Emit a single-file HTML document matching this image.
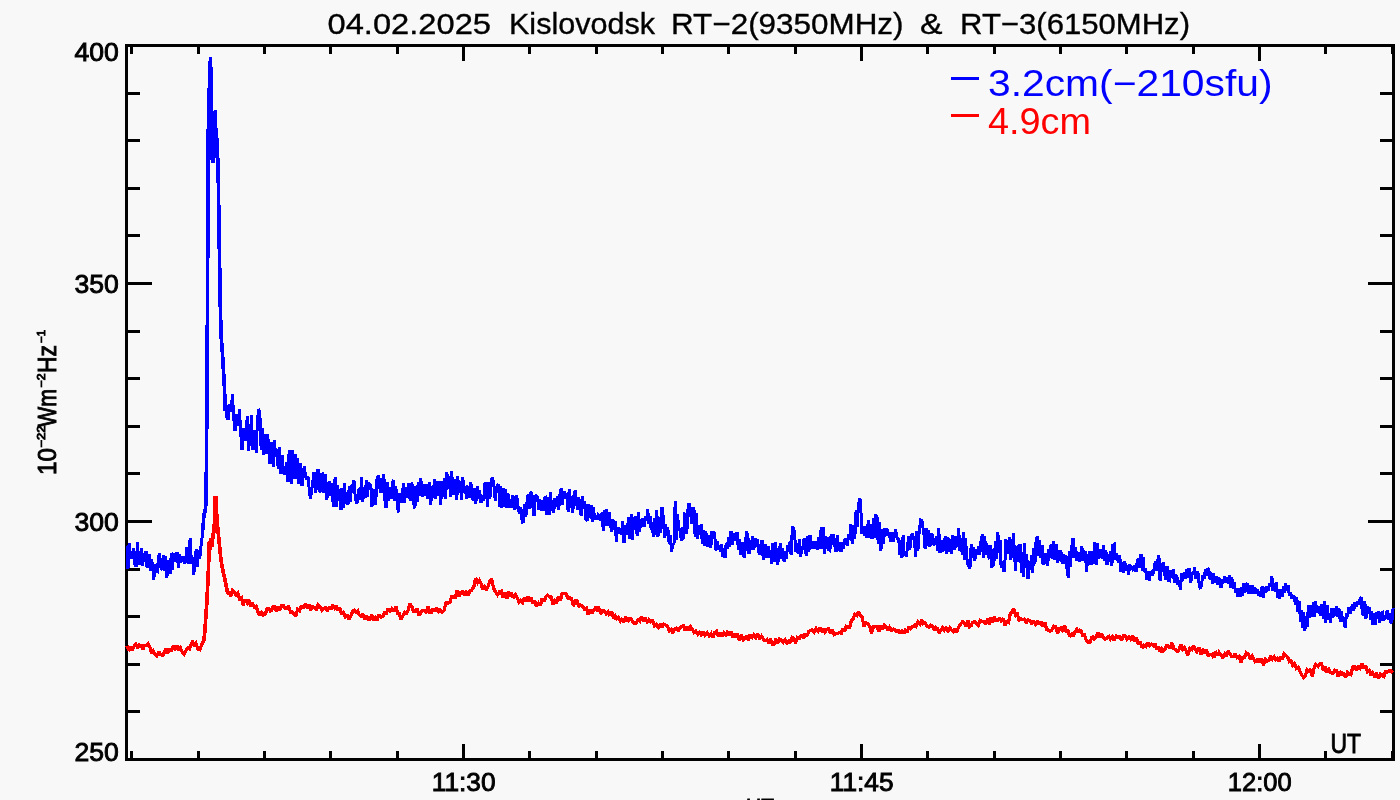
<!DOCTYPE html>
<html><head><meta charset="utf-8"><title>Kislovodsk RT-2 &amp; RT-3</title>
<style>
html,body{margin:0;padding:0;background:#f8f8f8;}
svg{display:block;will-change:opacity;opacity:0.999}
text{font-family:"Liberation Sans",sans-serif;}
</style></head><body>
<svg width="1400" height="800" viewBox="0 0 1400 800">
<rect width="1400" height="800" fill="#f8f8f8"/>
<g stroke="#000" stroke-width="3" stroke-linecap="butt" shape-rendering="crispEdges"><line x1="131.8" y1="759.5" x2="131.8" y2="751.0"/><line x1="131.8" y1="45.5" x2="131.8" y2="54.0"/><line x1="198.2" y1="759.5" x2="198.2" y2="751.0"/><line x1="198.2" y1="45.5" x2="198.2" y2="54.0"/><line x1="264.5" y1="759.5" x2="264.5" y2="751.0"/><line x1="264.5" y1="45.5" x2="264.5" y2="54.0"/><line x1="330.8" y1="759.5" x2="330.8" y2="751.0"/><line x1="330.8" y1="45.5" x2="330.8" y2="54.0"/><line x1="397.2" y1="759.5" x2="397.2" y2="751.0"/><line x1="397.2" y1="45.5" x2="397.2" y2="54.0"/><line x1="463.5" y1="759.5" x2="463.5" y2="744.0"/><line x1="463.5" y1="45.5" x2="463.5" y2="61.0"/><line x1="529.8" y1="759.5" x2="529.8" y2="751.0"/><line x1="529.8" y1="45.5" x2="529.8" y2="54.0"/><line x1="596.2" y1="759.5" x2="596.2" y2="751.0"/><line x1="596.2" y1="45.5" x2="596.2" y2="54.0"/><line x1="662.5" y1="759.5" x2="662.5" y2="751.0"/><line x1="662.5" y1="45.5" x2="662.5" y2="54.0"/><line x1="728.8" y1="759.5" x2="728.8" y2="751.0"/><line x1="728.8" y1="45.5" x2="728.8" y2="54.0"/><line x1="795.2" y1="759.5" x2="795.2" y2="751.0"/><line x1="795.2" y1="45.5" x2="795.2" y2="54.0"/><line x1="861.5" y1="759.5" x2="861.5" y2="744.0"/><line x1="861.5" y1="45.5" x2="861.5" y2="61.0"/><line x1="927.8" y1="759.5" x2="927.8" y2="751.0"/><line x1="927.8" y1="45.5" x2="927.8" y2="54.0"/><line x1="994.2" y1="759.5" x2="994.2" y2="751.0"/><line x1="994.2" y1="45.5" x2="994.2" y2="54.0"/><line x1="1060.5" y1="759.5" x2="1060.5" y2="751.0"/><line x1="1060.5" y1="45.5" x2="1060.5" y2="54.0"/><line x1="1126.8" y1="759.5" x2="1126.8" y2="751.0"/><line x1="1126.8" y1="45.5" x2="1126.8" y2="54.0"/><line x1="1193.2" y1="759.5" x2="1193.2" y2="751.0"/><line x1="1193.2" y1="45.5" x2="1193.2" y2="54.0"/><line x1="1259.5" y1="759.5" x2="1259.5" y2="744.0"/><line x1="1259.5" y1="45.5" x2="1259.5" y2="61.0"/><line x1="1325.8" y1="759.5" x2="1325.8" y2="751.0"/><line x1="1325.8" y1="45.5" x2="1325.8" y2="54.0"/><line x1="1392.2" y1="759.5" x2="1392.2" y2="751.0"/><line x1="1392.2" y1="45.5" x2="1392.2" y2="54.0"/><line x1="126.5" y1="711.9" x2="140.0" y2="711.9"/><line x1="1393.5" y1="711.9" x2="1380.0" y2="711.9"/><line x1="126.5" y1="664.3" x2="140.0" y2="664.3"/><line x1="1393.5" y1="664.3" x2="1380.0" y2="664.3"/><line x1="126.5" y1="616.7" x2="140.0" y2="616.7"/><line x1="1393.5" y1="616.7" x2="1380.0" y2="616.7"/><line x1="126.5" y1="569.1" x2="140.0" y2="569.1"/><line x1="1393.5" y1="569.1" x2="1380.0" y2="569.1"/><line x1="126.5" y1="521.5" x2="152.0" y2="521.5"/><line x1="1393.5" y1="521.5" x2="1368.0" y2="521.5"/><line x1="126.5" y1="473.9" x2="140.0" y2="473.9"/><line x1="1393.5" y1="473.9" x2="1380.0" y2="473.9"/><line x1="126.5" y1="426.3" x2="140.0" y2="426.3"/><line x1="1393.5" y1="426.3" x2="1380.0" y2="426.3"/><line x1="126.5" y1="378.7" x2="140.0" y2="378.7"/><line x1="1393.5" y1="378.7" x2="1380.0" y2="378.7"/><line x1="126.5" y1="331.1" x2="140.0" y2="331.1"/><line x1="1393.5" y1="331.1" x2="1380.0" y2="331.1"/><line x1="126.5" y1="283.5" x2="152.0" y2="283.5"/><line x1="1393.5" y1="283.5" x2="1368.0" y2="283.5"/><line x1="126.5" y1="235.9" x2="140.0" y2="235.9"/><line x1="1393.5" y1="235.9" x2="1380.0" y2="235.9"/><line x1="126.5" y1="188.3" x2="140.0" y2="188.3"/><line x1="1393.5" y1="188.3" x2="1380.0" y2="188.3"/><line x1="126.5" y1="140.7" x2="140.0" y2="140.7"/><line x1="1393.5" y1="140.7" x2="1380.0" y2="140.7"/><line x1="126.5" y1="93.1" x2="140.0" y2="93.1"/><line x1="1393.5" y1="93.1" x2="1380.0" y2="93.1"/></g>
<rect x="126.5" y="45.5" width="1267.0" height="714.0" fill="none" stroke="#000" stroke-width="3" shape-rendering="crispEdges"/>
<g fill="none" stroke-linejoin="miter" stroke-miterlimit="2" stroke-linecap="butt" shape-rendering="crispEdges">
<polyline stroke="#0000ff" stroke-width="3" points="127.0,545.9 128.0,568.7 129.1,542.8 130.3,558.5 131.4,551.5 132.7,558.3 133.8,548.6 135.1,565.6 136.4,565.4 137.5,542.3 138.7,563.2 140.1,564.5 141.3,548.2 142.4,565.9 143.7,556.9 144.9,553.5 146.0,551.2 147.1,567.8 148.3,555.5 149.3,555.4 150.5,571.2 151.6,559.3 152.6,565.5 153.8,579.5 155.0,564.4 156.0,571.2 157.3,571.7 158.4,557.6 159.5,553.5 160.8,567.7 162.0,570.1 163.3,554.7 164.4,571.0 165.5,556.6 166.7,577.5 167.8,573.2 168.9,560.2 170.0,574.1 171.3,553.2 172.4,570.0 173.6,554.5 174.7,555.1 175.8,561.5 177.1,551.8 178.4,568.1 179.6,554.0 180.8,561.5 182.1,560.9 183.4,556.8 184.5,563.6 185.7,559.2 186.9,547.4 188.1,564.3 189.3,545.7 190.3,538.2 191.4,564.1 192.5,557.1 193.8,575.1 195.1,557.6 196.3,548.7 197.4,567.3 198.7,550.5 199.7,558.9 201.1,544.8 203.0,530.0 203.8,515.0 205.0,512.0 205.8,505.0 206.4,470.0 207.0,380.0 207.4,320.0 208.2,136.0 209.3,90.0 210.5,57.5 211.2,100.0 211.5,160.0 212.3,120.0 213.0,163.0 214.0,130.0 215.4,110.0 216.0,150.0 217.0,138.0 217.5,165.0 218.0,158.0 218.6,200.0 220.0,290.0 221.0,335.0 222.4,352.0 224.6,390.0 225.0,411.0 226.0,405.0 227.0,418.0 228.0,420.0 229.5,404.0 231.0,412.0 232.5,394.0 233.5,415.0 235.0,431.0 236.5,414.0 238.0,426.0 239.5,409.0 240.5,430.0 242.0,450.0 243.5,428.0 245.0,441.0 247.4,416.0 248.3,451.0 249.0,424.5 250.3,445.6 251.3,415.5 252.6,450.2 253.7,443.0 255.0,430.6 256.2,452.8 257.3,422.9 258.5,409.0 259.8,411.7 261.2,450.4 262.5,428.2 263.8,455.2 265.1,433.8 266.3,454.3 267.3,434.6 268.6,442.7 269.9,464.2 271.0,441.8 272.2,457.3 273.4,467.1 274.5,440.3 275.6,456.8 276.9,449.3 278.2,468.8 279.4,446.6 280.7,473.5 282.1,454.8 283.3,472.3 284.4,474.7 285.5,468.4 286.9,462.0 288.0,482.2 289.2,449.7 290.4,472.2 291.4,484.0 292.8,449.9 293.9,479.2 295.1,453.6 296.2,479.2 297.3,458.4 298.3,482.3 299.5,483.4 300.7,463.0 302.0,486.2 303.1,477.7 304.2,465.7 305.4,475.5 306.6,479.8 307.9,476.4 309.2,488.9 310.4,499.0 311.6,490.3 312.9,480.5 314.0,472.3 315.3,492.8 316.7,487.8 318.0,469.0 319.2,489.5 320.3,492.3 321.6,474.2 322.7,473.8 324.0,492.4 325.4,474.5 326.5,499.5 327.7,495.9 329.1,480.9 330.2,495.9 331.4,483.6 332.7,499.4 333.8,506.7 335.1,477.3 336.4,506.5 337.6,485.2 338.7,500.8 339.9,489.2 341.0,510.0 342.0,488.1 343.2,507.5 344.4,483.0 345.5,504.0 346.8,492.2 348.0,504.8 349.3,485.9 350.4,502.4 351.5,484.8 352.7,485.9 353.9,480.0 355.1,495.2 356.4,503.2 357.8,501.6 359.1,487.9 360.4,499.4 361.5,477.5 362.8,501.7 363.9,487.9 365.1,498.0 366.4,480.0 367.5,496.6 368.5,482.8 369.7,486.1 370.8,483.9 371.9,507.2 373.2,489.5 374.6,496.9 375.6,504.9 376.9,480.1 378.2,475.0 379.3,484.1 380.5,492.9 381.6,478.6 382.7,492.7 383.8,473.9 384.9,499.8 386.1,508.2 387.5,482.0 388.7,500.7 390.0,487.6 391.1,498.4 392.3,484.2 393.5,479.8 394.7,501.4 395.8,486.3 397.1,501.6 398.3,512.4 399.4,493.2 400.7,496.4 402.1,503.2 403.3,483.4 404.4,502.5 405.4,487.6 406.5,497.5 407.8,493.6 408.9,483.2 410.2,501.0 411.3,482.8 412.6,485.8 413.6,502.8 414.9,508.3 415.9,485.6 417.1,501.6 418.5,482.5 419.5,496.1 420.7,478.1 421.7,486.4 422.8,496.9 424.1,483.9 425.2,495.7 426.3,483.8 427.4,498.7 428.5,491.3 429.6,481.8 430.7,505.3 432.0,486.1 433.1,498.1 434.4,479.0 435.7,499.3 436.9,480.7 438.2,496.3 439.5,481.4 440.7,505.1 441.9,480.8 443.1,496.8 444.4,478.4 445.6,498.8 446.8,471.8 448.2,489.1 449.5,476.5 450.6,496.6 451.7,471.5 453.0,494.7 454.2,479.1 455.4,481.9 456.8,500.2 457.8,476.5 458.9,492.2 460.2,481.0 461.5,500.1 462.8,477.6 464.0,493.3 465.2,485.8 466.4,498.6 467.5,487.1 468.6,487.6 469.7,498.2 470.9,482.2 472.1,498.8 473.3,499.2 474.4,488.4 475.8,503.8 477.1,486.6 478.4,498.9 479.6,489.7 481.0,503.0 482.2,495.8 483.6,500.5 484.9,482.7 486.2,484.7 487.5,506.9 488.8,482.5 489.9,498.5 491.2,480.0 492.6,477.6 493.9,485.1 495.2,500.4 496.3,487.3 497.5,485.2 498.5,484.5 499.8,507.0 500.9,486.2 502.0,507.6 503.1,488.1 504.2,507.0 505.5,488.9 506.7,508.2 507.9,492.9 509.1,508.0 510.2,499.4 511.4,507.4 512.6,495.2 513.9,499.3 515.0,509.7 516.3,495.6 517.5,500.4 518.5,510.8 519.8,513.4 520.9,507.5 522.2,522.0 523.5,521.4 524.8,504.1 525.9,516.5 527.2,499.6 528.3,494.2 529.6,509.1 530.8,493.2 531.8,492.0 533.0,507.5 534.0,515.9 535.1,495.0 536.5,496.9 537.5,495.8 538.6,509.8 539.8,498.7 541.1,510.6 542.3,500.3 543.4,510.8 544.4,498.1 545.6,497.4 546.7,515.4 547.9,497.2 549.1,514.8 550.3,491.6 551.4,510.8 552.5,500.5 553.7,512.8 554.9,497.8 556.2,506.4 557.5,495.8 558.7,509.9 560.1,493.5 561.1,488.3 562.3,505.0 563.3,493.6 564.6,491.7 565.9,498.4 567.1,493.0 568.1,511.8 569.2,488.9 570.3,507.4 571.6,496.4 572.8,512.6 574.1,493.9 575.3,490.2 576.3,499.8 577.5,509.4 578.6,497.0 580.0,505.9 581.2,516.2 582.5,496.2 583.7,509.2 584.8,501.1 586.0,519.5 587.2,520.4 588.6,503.9 589.8,518.3 591.0,505.2 592.2,522.2 593.4,506.8 594.6,519.1 595.7,517.7 597.1,519.4 598.2,514.8 599.4,515.8 600.7,520.5 602.1,512.3 603.3,531.0 604.4,509.8 605.7,525.5 606.8,509.4 608.1,525.8 609.3,512.4 610.6,526.7 611.9,531.5 613.0,519.6 614.1,529.2 615.1,521.0 616.4,541.6 617.6,527.4 618.9,533.6 620.2,527.8 621.4,534.7 622.6,521.1 624.0,542.7 625.2,525.0 626.5,534.5 627.7,525.0 628.9,516.8 630.0,539.0 631.2,514.1 632.4,539.5 633.7,517.2 634.7,530.2 635.9,515.9 637.2,536.4 638.3,512.5 639.3,531.7 640.4,519.2 641.8,527.3 642.9,518.4 644.2,526.8 645.5,516.1 646.5,521.2 647.7,509.2 649.0,524.3 650.0,516.0 651.2,530.3 652.3,521.7 653.3,537.2 654.4,518.2 655.5,535.2 656.7,509.9 658.0,536.5 659.4,517.6 660.7,532.9 662.0,506.8 663.4,517.8 664.5,537.9 665.6,523.9 666.6,536.3 667.8,527.6 669.1,543.5 670.2,535.4 671.5,551.4 672.8,545.0 674.0,543.7 675.2,500.6 676.4,539.8 677.6,514.4 678.7,530.4 679.9,528.8 681.3,540.5 682.3,527.1 683.6,539.4 684.6,514.0 685.8,514.6 686.8,533.6 688.2,505.7 689.2,503.0 690.5,509.4 691.5,524.0 692.6,511.9 693.9,507.2 695.1,536.5 696.3,513.1 697.6,539.1 698.7,525.3 699.8,534.5 701.2,524.4 702.3,544.4 703.4,530.3 704.6,545.8 705.9,531.4 707.1,546.9 708.5,536.5 709.6,535.7 710.8,548.1 712.0,531.1 713.3,533.4 714.6,532.0 715.7,550.4 717.0,540.8 718.0,549.6 719.1,545.2 720.4,551.7 721.4,544.5 722.5,556.5 723.9,547.8 725.0,558.1 726.2,543.1 727.3,548.5 728.6,537.0 729.6,546.8 731.0,531.1 732.2,544.7 733.3,532.9 734.7,540.6 735.9,535.2 737.0,531.9 738.4,549.9 739.5,539.6 740.9,554.8 742.2,542.4 743.5,556.2 744.6,557.4 745.7,540.5 746.7,531.2 748.0,537.7 749.0,554.2 750.1,539.7 751.2,549.7 752.4,535.8 753.8,550.3 755.1,538.0 756.2,546.7 757.5,539.0 758.7,551.9 759.8,554.5 760.9,544.3 762.0,539.9 763.2,559.4 764.6,556.1 765.7,543.8 767.0,557.7 768.3,546.3 769.4,558.3 770.5,549.9 771.9,564.1 772.9,543.3 774.2,561.8 775.4,541.7 776.7,555.9 777.7,564.5 779.0,555.4 780.3,543.3 781.5,559.3 782.7,548.3 784.1,561.8 785.1,550.8 786.5,559.0 787.6,544.7 788.8,551.6 790.1,540.9 791.1,555.2 792.4,526.5 793.6,528.6 794.6,533.1 795.7,552.0 797.1,543.1 798.1,553.5 799.4,539.1 800.6,557.0 801.9,545.8 803.1,550.1 804.1,537.9 805.4,551.1 806.5,555.4 807.9,536.4 808.9,551.8 810.0,535.3 811.3,549.0 812.4,541.6 813.7,546.3 814.7,548.7 816.0,541.2 817.3,549.8 818.7,537.1 820.0,548.7 821.2,527.0 822.2,548.6 823.2,526.9 824.5,554.0 825.6,536.1 826.6,548.9 827.7,537.5 828.9,549.9 829.9,550.5 831.2,534.2 832.4,544.5 833.5,534.6 834.9,546.6 836.0,551.7 837.2,535.4 838.3,551.2 839.6,541.8 841.0,551.5 842.0,542.2 843.3,548.7 844.6,540.3 845.9,538.7 847.3,546.1 848.4,533.9 849.5,539.7 850.9,524.2 852.2,543.5 853.5,525.1 854.8,539.1 856.1,510.4 857.2,527.4 858.5,504.1 859.9,498.0 860.9,510.3 862.0,533.8 863.3,526.0 864.5,535.4 865.7,526.3 867.0,538.0 868.3,520.3 869.4,537.8 870.6,524.3 872.0,539.3 873.4,517.8 874.7,538.2 875.8,514.4 877.1,517.2 878.2,544.0 879.6,522.2 880.9,551.4 882.1,529.6 883.5,544.1 884.7,528.0 885.8,535.5 886.9,528.2 888.2,535.6 889.3,532.1 890.6,542.3 891.9,532.2 893.0,541.8 894.2,537.5 895.5,529.2 896.5,534.7 897.6,539.7 898.7,537.9 899.8,554.7 900.8,540.6 902.0,557.5 903.1,535.5 904.1,552.6 905.2,552.8 906.3,556.6 907.6,545.9 908.7,536.5 909.8,550.2 911.1,539.5 912.2,532.8 913.3,538.3 914.4,536.7 915.5,556.6 916.7,530.8 917.9,550.6 919.3,530.4 920.6,520.0 921.9,520.1 922.9,527.3 924.1,535.5 925.1,548.9 926.2,528.4 927.4,546.0 928.8,529.8 929.9,547.1 931.2,533.4 932.6,535.2 933.7,545.3 935.0,541.8 936.3,536.6 937.6,550.6 938.7,528.4 940.0,553.1 941.4,540.5 942.7,551.8 944.0,549.0 945.2,536.2 946.6,553.6 947.9,537.0 949.2,551.8 950.4,539.0 951.7,553.7 952.8,535.4 954.1,549.8 955.1,536.1 956.2,544.3 957.4,547.0 958.7,528.2 959.8,550.7 960.9,539.5 962.3,555.2 963.3,531.8 964.4,560.1 965.5,538.4 966.7,556.4 967.8,564.5 968.9,566.0 969.9,568.8 971.2,544.5 972.6,558.3 973.7,546.9 974.8,560.4 976.0,549.5 977.3,554.5 978.5,545.9 979.7,554.6 981.0,541.2 982.4,534.0 983.5,557.5 984.7,536.0 985.8,554.4 986.8,543.3 988.1,555.5 989.4,559.1 990.8,544.9 991.8,566.3 993.0,566.0 994.2,559.6 995.5,541.6 996.8,559.0 997.8,531.7 999.0,552.8 1000.1,540.3 1001.1,567.7 1002.3,561.5 1003.5,570.5 1004.6,570.6 1005.8,540.8 1007.1,541.0 1008.3,554.3 1009.5,537.1 1010.7,559.5 1012.0,552.2 1013.4,533.5 1014.5,554.9 1015.6,570.5 1016.7,545.9 1017.9,561.9 1019.0,545.5 1020.3,545.7 1021.4,572.6 1022.4,551.9 1023.5,577.2 1024.5,543.3 1025.6,567.7 1026.7,553.8 1028.0,579.0 1029.1,561.0 1030.2,569.8 1031.5,555.3 1032.7,572.6 1033.8,548.5 1034.9,564.3 1036.0,542.1 1037.3,536.4 1038.6,555.6 1039.7,540.3 1040.9,557.4 1042.0,545.1 1043.1,565.3 1044.3,552.8 1045.4,563.6 1046.6,553.4 1047.6,565.9 1048.9,548.9 1050.0,557.4 1051.1,543.9 1052.4,558.5 1053.6,541.1 1054.9,559.4 1056.3,543.9 1057.4,562.5 1058.4,559.7 1059.7,551.6 1060.9,551.3 1062.2,564.3 1063.5,553.9 1064.5,563.7 1065.9,554.9 1067.1,569.7 1068.2,577.5 1069.3,551.3 1070.4,566.9 1071.7,547.2 1073.1,538.0 1074.4,557.6 1075.6,547.3 1077.0,561.1 1078.2,551.8 1079.4,561.9 1080.6,557.6 1081.9,546.0 1083.0,561.1 1084.2,552.5 1085.3,551.3 1086.6,571.8 1087.8,553.7 1088.9,565.3 1090.0,550.9 1091.2,565.3 1092.3,551.2 1093.6,564.1 1095.0,542.4 1096.3,564.8 1097.4,542.7 1098.8,558.8 1099.8,554.2 1101.0,548.9 1102.2,559.1 1103.4,545.0 1104.7,560.8 1105.9,550.0 1107.0,565.3 1108.2,554.3 1109.6,561.3 1110.7,550.7 1111.9,566.0 1112.9,545.1 1114.2,544.3 1115.4,560.3 1116.4,553.3 1117.5,559.0 1118.6,562.5 1119.7,554.8 1121.0,571.6 1122.3,562.0 1123.4,572.7 1124.8,561.7 1126.1,571.1 1127.2,565.3 1128.6,574.5 1129.9,564.6 1131.2,569.9 1132.4,566.8 1133.7,571.1 1135.0,565.6 1136.1,571.9 1137.2,562.0 1138.3,558.8 1139.6,567.8 1141.0,554.0 1142.2,570.7 1143.3,557.4 1144.3,572.1 1145.5,568.3 1146.7,580.2 1148.0,571.3 1149.3,580.7 1150.3,573.9 1151.6,572.4 1152.8,575.4 1154.0,568.9 1155.3,561.4 1156.5,571.3 1157.6,560.3 1158.9,555.6 1160.1,581.3 1161.3,568.8 1162.6,564.0 1163.7,562.7 1165.1,577.3 1166.1,579.7 1167.3,566.4 1168.3,580.6 1169.6,580.9 1170.9,570.0 1171.9,577.1 1173.2,569.6 1174.3,583.0 1175.5,576.8 1176.8,574.9 1178.0,584.6 1179.2,580.1 1180.4,590.0 1181.8,572.8 1182.8,580.7 1184.1,572.6 1185.2,578.8 1186.4,569.0 1187.5,578.3 1188.5,569.7 1189.6,569.8 1190.8,582.6 1192.1,572.3 1193.4,574.7 1194.6,567.6 1195.8,578.6 1196.9,571.4 1198.0,572.9 1199.4,586.9 1200.5,589.0 1201.7,583.0 1202.8,574.8 1204.0,579.1 1205.3,569.5 1206.5,575.4 1207.8,568.0 1208.8,570.0 1210.1,579.5 1211.3,572.7 1212.6,583.4 1213.7,573.6 1215.0,582.5 1216.4,576.7 1217.4,584.6 1218.7,577.1 1219.9,580.8 1221.1,588.2 1222.4,579.0 1223.7,583.2 1224.8,576.4 1226.1,582.2 1227.2,577.7 1228.3,583.3 1229.3,575.3 1230.5,588.1 1231.9,577.6 1233.2,589.0 1234.3,581.9 1235.5,593.0 1236.8,587.9 1238.0,596.8 1239.2,588.5 1240.4,596.5 1241.6,587.3 1242.8,596.1 1243.8,583.3 1244.9,592.4 1246.1,584.7 1247.1,583.1 1248.4,593.9 1249.8,585.2 1251.1,594.2 1252.2,585.3 1253.5,593.7 1254.8,586.8 1256.0,593.4 1257.2,589.1 1258.5,595.9 1259.7,591.5 1261.0,596.4 1262.1,586.5 1263.3,598.3 1264.6,586.9 1265.8,592.9 1267.0,586.5 1268.3,591.0 1269.4,583.5 1270.7,587.0 1271.9,576.6 1273.0,590.7 1274.1,582.9 1275.3,591.8 1276.6,582.6 1277.6,597.8 1278.8,591.4 1279.8,598.8 1280.8,588.8 1282.0,596.5 1283.3,586.5 1284.5,592.5 1285.8,583.5 1286.8,591.0 1288.1,584.9 1289.4,595.7 1290.6,592.9 1291.9,598.4 1293.1,596.0 1294.1,596.4 1295.5,604.7 1296.8,597.6 1298.0,611.5 1299.2,601.2 1300.5,621.9 1301.6,610.1 1302.6,627.9 1303.8,612.4 1304.8,631.0 1306.1,616.4 1307.2,626.7 1308.4,605.5 1309.5,617.8 1310.7,605.1 1312.0,616.8 1313.4,602.2 1314.5,616.9 1315.6,601.6 1316.9,612.3 1318.2,605.9 1319.6,612.3 1320.7,615.3 1322.0,603.9 1323.3,619.2 1324.5,601.0 1325.8,623.3 1327.0,604.8 1328.1,620.2 1329.2,612.9 1330.5,623.2 1331.7,607.8 1332.9,617.8 1334.2,608.4 1335.4,615.3 1336.8,606.4 1337.9,616.4 1339.0,608.5 1340.3,622.1 1341.4,611.3 1342.7,621.9 1343.9,617.5 1345.2,628.0 1346.5,613.5 1347.7,616.8 1348.9,607.7 1350.2,613.4 1351.2,609.0 1352.5,604.0 1353.8,610.4 1355.1,601.9 1356.5,606.4 1357.8,601.8 1358.8,604.8 1359.9,599.4 1361.2,597.1 1362.4,614.1 1363.6,614.8 1364.8,601.1 1366.0,618.4 1367.1,606.5 1368.1,609.8 1369.4,607.6 1370.6,619.5 1371.7,611.0 1373.0,625.3 1374.1,613.1 1375.1,624.8 1376.2,612.1 1377.4,618.9 1378.7,611.5 1379.8,622.9 1381.1,613.0 1382.3,612.4 1383.5,620.7 1384.9,618.6 1386.1,614.8 1387.3,610.7 1388.7,619.9 1389.7,613.5 1390.8,623.3 1391.9,621.2 1393.1,607.9"/>
<polyline stroke="#ff0000" stroke-width="3.3" points="127.0,645.9 128.8,650.9 130.6,646.6 132.3,650.3 134.1,646.3 135.7,644.1 137.7,648.1 139.5,645.0 141.2,645.6 142.9,649.4 144.5,645.4 146.4,645.4 148.0,643.7 149.8,647.0 151.7,653.7 153.3,651.2 154.9,654.1 156.9,655.8 158.8,651.6 160.7,654.4 162.6,655.6 164.3,652.7 166.1,648.7 167.8,653.3 169.6,648.3 171.3,651.3 173.2,645.7 175.1,648.8 177.0,645.4 178.8,650.1 180.4,647.9 182.3,652.1 184.0,654.3 185.7,651.0 187.7,647.9 189.4,648.9 191.0,644.9 192.5,641.0 194.2,644.9 195.9,643.2 197.9,649.4 199.9,649.9 201.5,645.2 204.0,640.0 205.0,630.0 205.6,620.0 207.0,600.0 208.4,570.0 209.4,541.0 210.3,550.0 211.2,538.0 212.0,547.0 213.0,535.0 214.0,531.0 214.8,515.0 215.3,498.0 215.9,498.0 216.5,512.0 217.0,520.0 219.0,540.0 221.0,560.0 223.0,571.0 225.0,580.0 226.5,588.0 228.0,594.0 229.0,592.1 230.7,596.1 232.4,590.4 234.1,591.8 236.1,595.1 237.9,593.3 239.4,598.8 241.4,597.6 243.1,605.1 245.1,599.6 247.2,603.1 249.0,600.0 250.6,606.2 252.3,602.8 254.4,606.9 256.1,606.3 257.9,611.9 259.9,615.4 261.5,612.5 263.5,615.2 265.5,613.5 267.0,608.6 269.0,608.4 270.8,611.8 272.9,607.1 274.4,606.6 276.4,611.5 278.0,606.7 279.6,610.5 281.4,606.0 283.4,605.6 284.9,608.2 286.5,608.4 288.5,605.9 290.5,611.9 292.3,611.9 294.0,614.1 295.7,616.3 297.6,609.3 299.6,610.8 301.5,605.7 303.2,608.4 305.1,604.2 307.1,607.3 309.0,604.8 310.7,610.1 312.7,606.7 314.7,607.5 316.4,610.1 318.1,604.8 320.1,606.5 321.8,610.2 323.8,608.3 325.8,607.8 327.4,611.4 329.3,606.5 331.0,609.5 332.6,605.1 334.7,608.2 336.4,605.7 338.1,610.7 339.8,608.0 341.6,614.4 343.3,612.4 345.3,617.0 347.0,614.8 348.7,619.3 350.5,616.7 352.6,611.4 354.2,610.2 356.1,612.3 357.8,610.8 359.3,615.0 360.9,616.1 362.7,613.7 364.6,618.9 366.6,615.7 368.3,619.6 370.1,619.5 371.8,615.0 373.5,620.2 375.5,617.4 377.2,620.7 378.8,614.5 380.9,617.1 382.7,616.7 384.3,612.6 386.3,613.3 388.0,608.6 390.0,611.3 391.9,608.5 393.9,611.3 395.9,606.3 397.6,613.6 399.3,613.8 401.1,619.4 402.8,615.7 404.8,612.4 406.6,613.4 408.2,609.9 410.0,603.8 411.9,606.7 413.5,611.2 415.2,611.7 417.1,608.9 419.1,615.1 420.9,612.7 422.6,610.3 424.3,610.9 426.2,612.0 428.0,606.1 429.6,612.6 431.5,612.5 433.0,608.3 434.7,611.5 436.7,607.9 438.5,611.7 440.2,609.8 442.1,612.1 443.9,610.8 446.0,602.5 448.0,603.0 449.9,602.2 451.5,596.9 453.3,597.1 455.3,597.5 457.1,590.9 459.1,596.2 460.7,592.2 462.8,591.6 464.4,595.5 466.2,592.3 468.1,595.5 470.0,590.3 471.7,590.2 473.7,587.1 475.6,578.1 477.7,582.5 479.4,580.2 481.1,583.8 482.8,589.5 484.4,586.8 486.4,590.0 488.3,585.6 489.8,580.9 491.6,578.9 493.6,588.2 495.7,592.2 497.5,594.8 499.6,591.6 501.3,591.1 503.1,597.8 505.1,592.4 507.0,598.2 508.8,591.7 510.3,596.6 511.9,594.3 513.8,596.7 515.3,594.5 517.3,597.9 518.9,601.8 520.6,600.1 522.7,602.5 524.3,597.9 526.0,601.1 528.0,596.5 529.6,601.6 531.2,597.9 532.9,603.5 534.7,601.1 536.4,606.6 538.5,603.1 540.2,605.7 542.2,598.5 544.0,601.2 546.1,596.4 547.8,595.2 549.4,596.9 551.1,596.8 553.1,604.4 554.9,601.0 556.4,603.0 558.4,597.0 560.4,600.6 562.1,593.8 564.1,593.8 566.0,593.6 567.9,598.3 569.9,597.9 571.5,598.8 573.5,606.0 575.4,600.9 577.0,601.0 578.8,606.1 580.4,605.0 582.4,606.0 584.4,608.9 586.4,608.2 588.1,614.3 590.2,609.6 592.0,613.3 593.9,610.4 595.9,606.6 597.4,609.8 599.0,608.3 600.7,613.9 602.5,610.5 604.2,610.9 606.2,614.1 607.9,611.8 609.9,615.8 611.6,611.5 613.6,618.8 615.2,616.3 616.7,619.0 618.4,617.5 620.2,621.1 622.1,618.3 623.7,622.3 625.7,617.1 627.6,621.8 629.4,618.3 631.0,618.3 632.6,621.9 634.3,623.5 636.0,623.2 637.9,620.0 639.8,621.3 641.5,616.8 643.5,620.8 645.1,617.8 647.1,621.7 648.7,619.7 650.6,622.1 652.5,620.8 654.6,626.0 656.4,624.1 658.3,627.4 660.4,623.9 662.0,627.3 663.9,624.1 666.0,625.4 667.7,626.8 669.4,630.8 671.2,629.3 672.8,632.9 674.6,629.3 676.5,628.1 678.2,631.1 679.7,628.2 681.4,626.3 683.3,625.7 685.1,630.4 686.9,626.6 688.9,630.5 690.6,626.7 692.3,629.0 693.9,632.4 695.7,631.2 697.7,634.3 699.4,632.3 701.2,634.8 703.2,631.6 705.0,635.4 707.1,632.7 709.1,635.7 711.1,633.4 713.0,637.5 714.6,632.7 716.6,631.2 718.2,636.0 720.2,632.4 722.2,636.6 724.0,632.9 725.7,635.0 727.7,631.1 729.3,635.8 730.9,631.9 732.6,637.2 734.2,633.8 735.9,637.7 737.4,633.9 739.5,640.8 741.4,634.7 743.3,639.9 745.2,638.6 746.7,635.3 748.3,640.1 750.1,634.8 752.1,637.5 753.7,634.8 755.7,637.6 757.7,633.8 759.5,639.1 761.5,636.3 763.3,639.2 765.1,640.8 767.0,639.7 768.8,643.0 770.5,639.0 772.5,644.3 774.1,644.0 775.8,639.0 777.7,643.2 779.3,639.1 781.2,639.7 783.2,642.4 785.2,640.0 786.9,642.9 789.0,640.8 790.5,642.9 792.1,637.2 793.9,638.2 795.5,643.0 797.5,637.4 799.5,638.3 801.5,634.5 803.6,638.3 805.1,633.4 806.9,635.9 808.8,631.4 810.6,630.6 812.2,629.8 814.2,632.1 816.1,628.6 818.0,631.0 819.8,627.3 821.5,631.9 823.1,628.5 825.0,632.1 826.9,629.3 828.6,628.8 830.4,633.0 831.9,629.6 834.0,634.5 835.7,633.5 837.5,633.4 839.4,632.4 841.2,633.4 843.0,628.4 844.6,631.0 846.2,626.5 847.9,627.2 849.8,627.2 851.3,620.3 853.0,619.1 855.0,614.2 856.7,615.5 858.5,611.5 860.5,616.0 862.1,617.2 864.1,626.5 865.7,622.9 867.7,623.9 869.8,626.4 871.6,633.1 873.4,626.9 875.4,626.3 877.1,626.4 879.1,631.7 880.9,625.6 882.7,629.0 884.5,625.1 886.1,626.4 888.0,630.7 889.7,627.5 891.5,630.2 893.4,629.0 894.9,629.5 896.7,632.5 898.4,629.4 900.1,633.2 902.0,630.3 903.7,633.7 905.4,630.1 907.0,632.2 908.6,627.7 910.5,628.8 912.3,627.0 914.2,625.2 915.9,626.5 917.8,621.8 919.9,624.3 921.5,620.1 923.3,623.7 925.2,622.8 927.2,626.5 928.9,627.0 930.7,625.0 932.5,626.3 934.2,629.9 935.7,627.3 937.5,628.8 939.4,632.9 940.9,630.1 942.5,627.7 944.3,630.3 946.2,627.1 947.7,631.9 949.8,628.0 951.3,629.9 953.3,631.6 955.1,628.7 956.7,632.0 958.6,626.9 960.6,623.9 962.5,621.8 964.2,622.7 966.2,626.8 968.1,620.6 969.6,626.9 971.2,625.5 972.8,622.2 974.6,621.4 976.4,623.6 978.3,625.3 980.2,620.6 982.2,621.6 984.1,621.6 985.8,623.9 987.6,619.0 989.2,624.3 991.0,617.8 992.6,622.3 994.3,616.9 996.1,620.4 997.9,620.4 999.6,617.5 1001.4,620.8 1003.3,618.3 1005.2,625.9 1006.7,621.8 1008.5,622.5 1010.2,613.9 1012.0,611.7 1013.6,608.4 1015.7,615.6 1017.3,614.1 1018.9,619.9 1020.5,618.6 1022.4,619.3 1024.4,619.1 1026.3,622.9 1028.1,619.9 1030.0,620.5 1031.8,624.2 1033.6,620.8 1035.5,624.0 1037.3,620.8 1039.3,624.7 1040.9,621.9 1043.0,626.7 1044.9,622.4 1046.7,629.4 1048.5,630.2 1050.1,631.2 1051.8,630.0 1053.8,626.2 1055.7,626.9 1057.7,633.1 1059.6,628.6 1061.3,627.8 1063.2,631.9 1064.7,625.7 1066.4,632.9 1067.9,630.0 1069.9,636.8 1072.0,633.8 1073.6,635.3 1075.2,631.5 1076.9,629.0 1078.8,632.6 1080.7,629.3 1082.6,635.0 1084.4,634.9 1086.4,640.6 1088.3,642.2 1090.1,642.1 1092.1,636.4 1094.1,638.8 1096.2,637.2 1098.0,632.3 1099.9,637.5 1101.7,634.0 1103.5,637.8 1105.1,639.1 1106.7,638.4 1108.8,636.5 1110.4,639.2 1112.3,636.7 1114.1,640.8 1116.1,636.0 1118.0,637.2 1119.6,636.5 1121.6,640.2 1123.2,635.7 1124.9,635.6 1126.8,639.0 1128.8,636.7 1130.7,639.3 1132.5,635.6 1134.5,641.7 1136.3,638.0 1138.3,643.9 1140.2,641.7 1142.0,647.8 1143.9,645.3 1145.8,646.6 1147.8,642.3 1149.6,645.8 1151.5,644.0 1153.2,645.6 1154.9,643.4 1156.7,649.5 1158.4,646.5 1160.1,651.9 1161.7,648.7 1163.4,651.0 1165.0,649.2 1166.9,644.5 1168.6,647.0 1170.2,647.6 1171.9,643.0 1173.9,648.6 1175.7,649.9 1177.6,651.4 1179.3,649.2 1180.9,644.7 1182.7,649.1 1184.3,647.5 1186.2,651.0 1188.0,655.0 1189.9,648.4 1191.7,649.5 1193.5,645.9 1195.2,649.0 1197.0,651.8 1199.1,647.9 1200.8,654.7 1202.7,649.1 1204.6,653.0 1206.3,649.7 1208.2,655.5 1210.1,654.9 1212.0,654.3 1213.8,657.9 1215.3,651.1 1217.4,655.7 1219.0,652.3 1220.8,654.7 1222.7,657.9 1224.7,653.9 1226.5,656.1 1228.2,650.9 1230.0,653.9 1231.8,656.5 1233.4,656.6 1235.2,653.6 1237.1,657.6 1239.1,656.3 1241.1,662.2 1242.7,657.5 1244.3,657.6 1246.3,652.8 1248.4,654.1 1250.4,658.9 1252.2,656.2 1254.1,659.6 1255.9,662.7 1257.8,658.5 1259.6,662.1 1261.6,658.9 1263.5,665.1 1265.1,659.3 1267.1,661.1 1268.9,660.3 1270.6,655.8 1272.3,659.2 1274.2,656.9 1275.8,659.6 1277.5,658.3 1279.0,661.6 1280.7,656.8 1282.5,659.0 1284.0,653.7 1285.8,655.4 1287.7,657.3 1289.4,661.6 1291.1,660.7 1292.7,665.1 1294.3,663.3 1296.4,668.6 1298.4,667.4 1300.1,671.6 1302.0,675.4 1303.8,677.6 1305.4,675.6 1307.0,669.7 1308.8,671.2 1310.4,669.2 1312.2,676.3 1314.3,667.5 1315.9,664.4 1317.9,666.5 1320.0,663.3 1321.5,663.6 1323.4,670.9 1325.1,666.9 1326.8,672.1 1328.8,669.3 1330.8,672.8 1332.8,673.4 1334.7,670.0 1336.4,670.7 1338.1,676.4 1339.9,671.1 1341.7,675.2 1343.6,672.4 1345.6,677.4 1347.4,672.4 1348.9,673.9 1350.8,674.8 1352.8,667.1 1354.4,666.8 1356.4,670.5 1358.2,666.0 1360.0,668.4 1362.0,664.0 1364.0,668.7 1365.7,665.5 1367.5,671.7 1369.3,670.1 1371.1,675.4 1372.7,673.1 1374.6,676.8 1376.5,673.0 1378.3,678.3 1380.4,674.2 1382.0,674.9 1383.8,676.5 1385.5,671.8 1387.5,672.1 1389.3,670.8 1391.0,670.4 1392.7,672.9"/>
<polyline stroke="#0000ff" stroke-width="3.7" points="203.0,530.0 203.8,515.0 205.0,512.0 205.8,505.0 206.4,470.0 207.0,380.0 207.4,320.0 208.2,136.0 209.3,90.0 210.5,57.5 211.2,100.0 211.5,160.0 212.3,120.0 213.0,163.0 214.0,130.0 215.4,110.0 216.0,150.0 217.0,138.0 217.5,165.0 218.0,158.0 218.6,200.0 220.0,290.0 221.0,335.0 222.4,352.0 224.6,390.0 225.0,411.0 226.0,405.0"/>
<polyline stroke="#ff0000" stroke-width="3.7" points="204.0,640.0 205.0,630.0 205.6,620.0 207.0,600.0 208.4,570.0 209.4,541.0 210.3,550.0 211.2,538.0 212.0,547.0 213.0,535.0 214.0,531.0 214.8,515.0 215.3,498.0 215.9,498.0 216.5,512.0 217.0,520.0 219.0,540.0 221.0,560.0 223.0,571.0 225.0,580.0 226.5,588.0 228.0,594.0"/>
</g>
<g fill="#000" stroke="#000" stroke-width="0.9" font-size="25.5" style="filter:grayscale(1)">
<text x="327.5" y="34" font-size="29.5" stroke-width="0.35" textLength="163.5" lengthAdjust="spacingAndGlyphs">04.02.2025</text>
<text x="509" y="34" font-size="29.5" stroke-width="0.35" textLength="146" lengthAdjust="spacingAndGlyphs">Kislovodsk</text>
<text x="671" y="34" font-size="29.5" stroke-width="0.35" textLength="232.5" lengthAdjust="spacingAndGlyphs">RT−2(9350MHz)</text>
<text x="920" y="34" font-size="29.5" stroke-width="0.35" textLength="22.5" lengthAdjust="spacingAndGlyphs">&amp;</text>
<text x="960" y="34" font-size="29.5" stroke-width="0.35" textLength="230" lengthAdjust="spacingAndGlyphs">RT−3(6150MHz)</text>
<text x="74.5" y="61" textLength="44.3" lengthAdjust="spacingAndGlyphs">400</text>
<text x="74.5" y="293" textLength="44.3" lengthAdjust="spacingAndGlyphs">350</text>
<text x="74.5" y="531" textLength="44.3" lengthAdjust="spacingAndGlyphs">300</text>
<text x="74.5" y="760.5" textLength="44.3" lengthAdjust="spacingAndGlyphs">250</text>
<text x="431.8" y="791" textLength="63.8" lengthAdjust="spacingAndGlyphs">11:30</text>
<text x="829.8" y="791" textLength="63.8" lengthAdjust="spacingAndGlyphs">11:45</text>
<text x="1227.8" y="791" textLength="63.8" lengthAdjust="spacingAndGlyphs">12:00</text>
<text x="1330.5" y="753" font-size="27.5" textLength="30.5" lengthAdjust="spacingAndGlyphs">UT</text>
<text x="746" y="817.5" font-size="27.5" textLength="28" lengthAdjust="spacingAndGlyphs">UT</text>
<g transform="translate(56,475) rotate(-90)">
<text x="0" y="0" textLength="27" lengthAdjust="spacingAndGlyphs">10</text>
<text x="27.5" y="-11.5" font-size="11" stroke-width="0.9" textLength="22" lengthAdjust="spacingAndGlyphs">−22</text>
<text x="48" y="0" textLength="38" lengthAdjust="spacingAndGlyphs">Wm</text>
<text x="87.5" y="-11.5" font-size="11" stroke-width="0.9" textLength="14" lengthAdjust="spacingAndGlyphs">−2</text>
<text x="102" y="0" textLength="28" lengthAdjust="spacingAndGlyphs">Hz</text>
<text x="132" y="-11.5" font-size="11" stroke-width="0.9" textLength="13" lengthAdjust="spacingAndGlyphs">−1</text>
</g>
</g>
<g stroke-width="0" font-size="36.5">
<line x1="951" y1="78.5" x2="979" y2="78.5" stroke="#0000ff" stroke-width="3"/>
<text x="988" y="96" fill="#0000ff" stroke="#0000ff" textLength="284.5" lengthAdjust="spacingAndGlyphs">3.2cm(−210sfu)</text>
<line x1="951" y1="115.5" x2="979" y2="115.5" stroke="#ff0000" stroke-width="3"/>
<text x="988" y="134" fill="#ff0000" stroke="#ff0000" textLength="103" lengthAdjust="spacingAndGlyphs">4.9cm</text>
</g>
</svg>
</body></html>
